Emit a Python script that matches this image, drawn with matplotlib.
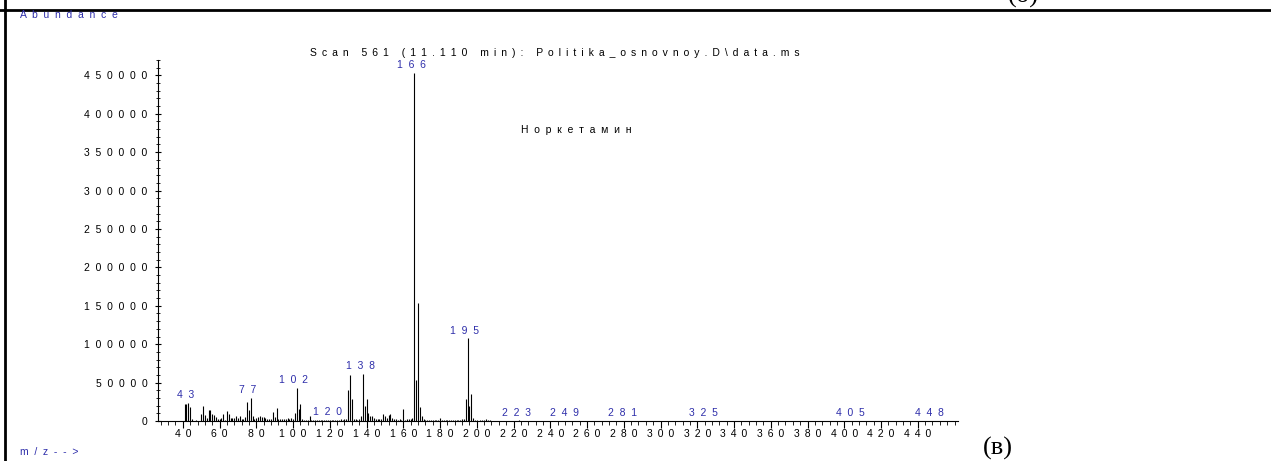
import matplotlib
matplotlib.use("Agg")
import matplotlib.pyplot as plt
from matplotlib.lines import Line2D
from matplotlib.ticker import MultipleLocator

# ---- data (m/z, abundance) ----
mz = [41, 42, 43, 44, 45, 47, 50, 51, 52, 53, 54, 55, 56, 57, 58, 59, 60,
      61, 62, 63, 64, 65, 66, 67, 68, 69, 70, 71, 72, 73, 74, 75, 76, 77,
      78, 79, 80, 81, 82, 83, 84, 85, 86, 87, 88, 89, 90, 91, 92, 93, 94,
      95, 96, 97, 98, 99, 100, 101, 102, 103, 104, 105, 106, 107, 108, 109,
      110, 111, 112, 113, 114, 115, 116, 117, 118, 119, 120, 121, 122, 123,
      124, 125, 126, 127, 128, 129, 130, 131, 132, 133, 134, 135, 136, 137,
      138, 139, 140, 141, 142, 143, 144, 145, 146, 147, 148, 149, 150, 151,
      152, 153, 154, 155, 156, 157, 158, 159, 160, 161, 162, 163, 164, 165,
      166, 167, 168, 169, 170, 171, 172, 173, 174, 175, 176, 177, 178, 179,
      180, 181, 182, 183, 184, 185, 186, 187, 188, 189, 190, 191, 192, 193,
      194, 195, 196, 197, 198, 199, 200, 202, 203, 204, 205, 206, 207, 209,
      212, 215, 219, 223, 228, 236, 249, 255, 281, 300, 325, 355, 405, 448]
abundance = [21700, 22100, 23900, 18200, 3000, 1500, 9500, 19000, 7400, 4300,
             13900, 14700, 9500, 7400, 5200, 3000, 3000, 4300, 8700, 1700,
             13000, 9500, 4300, 4300, 4300, 6000, 4300, 6000, 2500, 2000,
             5000, 25000, 14000, 30500, 6000, 3000, 4300, 5200, 6000, 5200,
             5200, 4300, 3000, 3000, 2500, 11700, 5200, 17400, 2500, 3000,
             2000, 3000, 2500, 3500, 2000, 4000, 2500, 10800, 43400, 15200,
             22600, 3000, 1700, 1500, 1200, 6500, 1500, 1200, 1000, 1300,
             800, 1500, 900, 1200, 800, 1000, 1200, 900, 1500, 800,
             1000, 1500, 2000, 1500, 3000, 2500, 40000, 60300, 29000, 3000,
             2000, 1500, 2500, 6000, 61600, 19000, 29000, 10400, 6000, 6000,
             4300, 3000, 3000, 2500, 2000, 8700, 6000, 4500, 7400, 9500,
             4000, 3000, 2000, 1500, 2000, 1500, 15200, 1500, 2000, 2500,
             3000, 3500, 453000, 53000, 153000, 18200, 6000, 3000, 1500, 1200,
             800, 1000, 1500, 800, 1000, 900, 4300, 1200, 800, 900,
             700, 800, 1000, 700, 800, 1000, 1200, 1500, 2000, 3000,
             28000, 107500, 19000, 35600, 4300, 1500, 800, 1000, 1800, 1200,
             2200, 1500, 800, 600, 500, 600, 500, 700, 400, 500,
             600, 400, 600, 400, 600, 300, 500, 500]
peak_labels = [43, 77, 102, 120, 138, 166, 195, 223, 249, 281, 325, 405, 448]

x_ticks = list(range(40, 441, 20))
y_ticks = list(range(0, 450001, 50000))

title = "Scan 561 (11.110 min): Politika_osnovnoy.D\\data.ms"
compound = "Норкетамин"

BLUE = "#2e2eaa"
W, H = 1271, 461
FS = 7.5
WIDE = "  "
MID = " \u2009"


def spaced(s, gap=WIDE):
    # the instrument printout uses wide letter spacing
    return gap.join(s)


plt.rcParams["font.family"] = ["Liberation Sans", "DejaVu Sans"]

fig = plt.figure(figsize=(W / 100, H / 100), dpi=100)
ax = fig.add_axes([158 / W, 40 / H, 800 / W, 361 / H])

ax.vlines(mz, 0, abundance, colors="black", linewidth=0.8)

ax.set_xlim(26.5, 461.9)
ax.set_ylim(0, 470000)

for side in ["top", "right"]:
    ax.spines[side].set_visible(False)
for side in ["left", "bottom"]:
    ax.spines[side].set_linewidth(0.8)

ax.set_xticks(x_ticks)
ax.set_xticklabels([spaced(str(t), MID) for t in x_ticks])
ax.xaxis.set_minor_locator(MultipleLocator(4))
ax.tick_params(axis="x", which="major", direction="out", length=5,
               width=0.8, pad=0.5, labelsize=FS)
ax.tick_params(axis="x", which="minor", direction="out", length=3, width=0.6)

ax.set_yticks(y_ticks)
ax.set_yticklabels([spaced(str(t)) for t in y_ticks])
ax.yaxis.set_minor_locator(MultipleLocator(10000))
ax.tick_params(axis="y", which="major", direction="inout", length=5,
               width=0.8, pad=5, labelsize=FS)
ax.tick_params(axis="y", which="minor", direction="inout", length=3, width=0.6)

# peak labels
for m in peak_labels:
    a = abundance[mz.index(m)]
    ax.annotate(spaced(str(m)), xy=(m, a), xytext=(-2, 2),
                textcoords="offset points", ha="center", va="bottom",
                color=BLUE, fontsize=FS)

fig.text(20 / W, 1 - 15.5 / H, spaced("Abundance"), color=BLUE,
         fontsize=FS, ha="left", va="center")
fig.text(555 / W, 1 - 53 / H, spaced(title, MID), fontsize=FS,
         ha="center", va="center")
fig.text(576 / W, 1 - 130 / H, spaced(compound), fontsize=FS,
         ha="center", va="center")
fig.text(20 / W, 1 - 452 / H, spaced("m/z-->"), color=BLUE,
         fontsize=FS, ha="left", va="center")

# page frame from the source document
fig.add_artist(Line2D([0, 1], [1 - 10 / H] * 2, transform=fig.transFigure,
                      color="black", linewidth=2))
fig.add_artist(Line2D([5.3 / W] * 2, [0, 1], transform=fig.transFigure,
                      color="black", linewidth=2))

# panel letters (the upper one is cut by the page edge, as in the source)
fig.text(1023 / W, 1 - 7 / H, "(б)", family="Liberation Serif",
         fontsize=19, ha="center", va="bottom")
fig.text(998 / W, 1 / H, "(в)", family="Liberation Serif",
         fontsize=19, ha="center", va="bottom")

fig.savefig("out.png", dpi=100)
